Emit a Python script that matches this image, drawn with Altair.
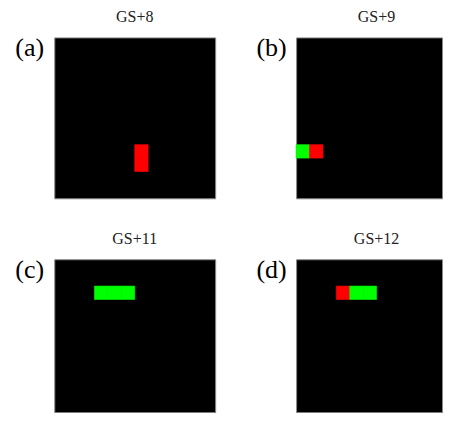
import altair as alt
import pandas as pd

N = 12  # grid size (cells per side)

panel_labels = ["(a)", "(b)", "(c)", "(d)"]
panel_titles = ["GS+8", "GS+9", "GS+11", "GS+12"]

RED = "#ff0000"
GREEN = "#00ff00"

a_cols = [6, 6]
a_rows = [8, 9]
a_colors = [RED, RED]

b_cols = [0, 1]
b_rows = [8, 8]
b_colors = [GREEN, RED]

c_cols = [3, 4, 5]
c_rows = [2, 2, 2]
c_colors = [GREEN, GREEN, GREEN]

d_cols = [3, 4, 5]
d_rows = [2, 2, 2]
d_colors = [RED, GREEN, GREEN]

FULL = 161  # plot side in px for a full 12x12 panel
SERIF = "Liberation Serif"


def panel(cols, rows, colors, label, title, width, height):
    df = pd.DataFrame({
        "x0": cols,
        "x1": [c + 1 for c in cols],
        "y0": rows,
        "y1": [r + 1 for r in rows],
        "color": colors,
    })
    # visible part of the 12x12 grid (the figure is cropped at the page edge)
    xdom = [0, N * width / FULL]
    ydom = [0, N * height / FULL]
    cells = alt.Chart(df).mark_rect(strokeWidth=0.6).encode(
        x=alt.X("x0:Q", scale=alt.Scale(domain=xdom, nice=False, zero=False), axis=None),
        x2="x1:Q",
        y=alt.Y("y0:Q", scale=alt.Scale(domain=ydom, nice=False, zero=False, reverse=True), axis=None),
        y2="y1:Q",
        color=alt.Color("color:N", scale=None),
        stroke=alt.Stroke("color:N", scale=None),
    )
    lab = alt.Chart(pd.DataFrame({"t": [label]})).mark_text(
        font=SERIF, fontSize=26, align="center", baseline="alphabetic", color="black"
    ).encode(x=alt.value(-24.6), y=alt.value(18.6), text="t:N")
    tit = alt.Chart(pd.DataFrame({"t": [title]})).mark_text(
        font=SERIF, fontSize=16, align="center", baseline="alphabetic", color="#222222"
    ).encode(x=alt.value(80.5), y=alt.value(-15.4), text="t:N")
    return alt.layer(cells, lab, tit).properties(width=width, height=height)


RIGHT_W = 146
BOTTOM_H = 153

pa = panel(a_cols, a_rows, a_colors, panel_labels[0], panel_titles[0], FULL, FULL)
pb = panel(b_cols, b_rows, b_colors, panel_labels[1], panel_titles[1], RIGHT_W, FULL)
pc = panel(c_cols, c_rows, c_colors, panel_labels[2], panel_titles[2], FULL, BOTTOM_H)
pd_ = panel(d_cols, d_rows, d_colors, panel_labels[3], panel_titles[3], RIGHT_W, BOTTOM_H)

chart = alt.concat(
    pa, pb, pc, pd_, columns=2, spacing={"row": 61, "column": 81}, bounds="flush"
).properties(
    padding={"left": 6.3, "top": 0.3, "right": 0, "bottom": 0},
    background="white",
).configure_view(
    fill="black", stroke="#888888", strokeWidth=1
)

chart.save("out.html", embed_options={"renderer": "svg", "actions": False})
